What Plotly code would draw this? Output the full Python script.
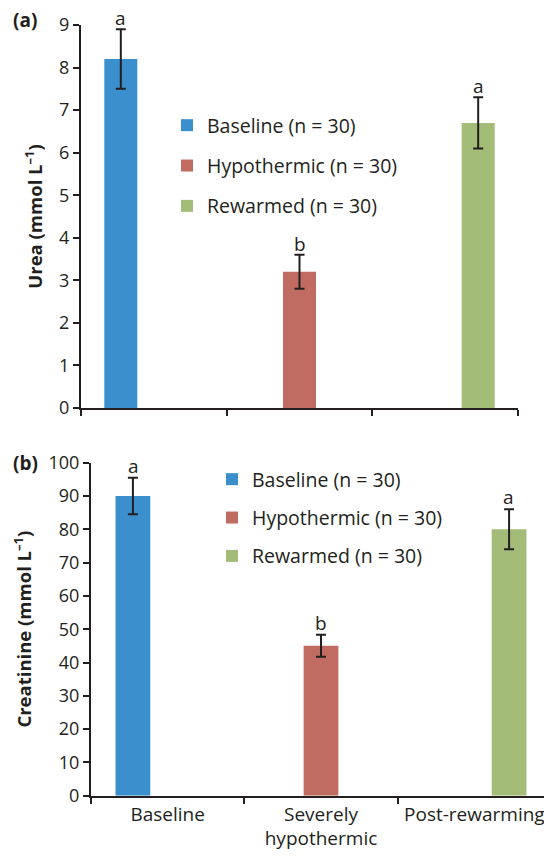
import plotly.graph_objects as go

categories = ["Baseline", "Severely<br>hypothermic", "Post-rewarming"]
series_names = ["Baseline (n = 30)", "Hypothermic (n = 30)", "Rewarmed (n = 30)"]
colors = ["#3A8FCC", "#C06C63", "#A3BD78"]

urea = [8.2, 3.2, 6.7]
urea_err = [0.7, 0.4, 0.6]
urea_letters = ["a", "b", "a"]

creatinine = [90, 45, 80]
creatinine_err = [5.5, 3.3, 6.0]
creatinine_letters = ["a", "b", "a"]

urea_ticks = list(range(0, 10))
creat_ticks = list(range(0, 101, 10))

INK = "#231F20"
FONT = "Open Sans"
# the page body has an 8px margin, so the figure is drawn from (8, 8)
OX, OY = 8, 8
W, H = 552 - OX, 861 - OY


def px(x):
    return (x - OX) / W


def py(y):
    return 1 - (y - OY) / H


fig = go.Figure()


def only(vals, i):
    return [v if j == i else None for j, v in enumerate(vals)]


for i, name in enumerate(series_names):
    fig.add_trace(go.Bar(
        x=categories, y=only(urea, i), name=name,
        marker=dict(color=colors[i], line=dict(width=0)),
        error_y=dict(type="data", array=only(urea_err, i), color=INK, thickness=2, width=5),
        xaxis="x", yaxis="y", legend="legend", legendgroup="t%d" % i,
    ))
for i, name in enumerate(series_names):
    fig.add_trace(go.Bar(
        x=categories, y=only(creatinine, i), name=name,
        marker=dict(color=colors[i], line=dict(width=0)),
        error_y=dict(type="data", array=only(creatinine_err, i), color=INK, thickness=2, width=5),
        xaxis="x2", yaxis="y2", legend="legend2", legendgroup="b%d" % i,
    ))

annotations = []
for i in range(3):
    annotations.append(dict(
        x=categories[i], y=urea[i] + urea_err[i], xref="x", yref="y",
        text=urea_letters[i], showarrow=False, yanchor="bottom", xshift=(i - 1) * 33, yshift=-4,
        font=dict(family=FONT, size=19, color=INK)))
    annotations.append(dict(
        x=categories[i], y=creatinine[i] + creatinine_err[i], xref="x2", yref="y2",
        text=creatinine_letters[i], showarrow=False, yanchor="bottom", xshift=(i - 1) * 34.5, yshift=-3,
        font=dict(family=FONT, size=19, color=INK)))

annotations.append(dict(x=px(11), y=py(20), xref="paper", yref="paper", text="<b>(a)</b>",
                        showarrow=False, xanchor="left", yanchor="middle",
                        font=dict(family=FONT, size=19, color=INK)))
annotations.append(dict(x=px(11), y=py(463), xref="paper", yref="paper", text="<b>(b)</b>",
                        showarrow=False, xanchor="left", yanchor="middle",
                        font=dict(family=FONT, size=19, color=INK)))

axis_common = dict(showline=True, linecolor=INK, linewidth=2, ticks="outside", tickcolor=INK,
                   ticklen=6, tickwidth=1.5, showgrid=False, zeroline=False, automargin=False)

fig.update_layout(
    width=W, height=H,
    margin=dict(l=0, r=0, t=0, b=0, autoexpand=False),
    paper_bgcolor="white", plot_bgcolor="white",
    barmode="group", bargap=0.32, bargroupgap=0,
    font=dict(family=FONT, color=INK, size=18),
    xaxis=dict(domain=[px(81), px(518)], anchor="y", type="category", categoryorder="array",
               categoryarray=categories, showticklabels=False, tickson="boundaries", **axis_common),
    yaxis=dict(domain=[py(408), py(25)], anchor="x", range=[0, 9], tickvals=urea_ticks,
               tickfont=dict(size=18, color=INK),
               title=dict(text="<b>Urea (mmol L<sup>–1</sup>)</b>", font=dict(size=18.5, color=INK), standoff=12),
               **axis_common),
    xaxis2=dict(domain=[px(91), px(551)], anchor="y2", type="category", categoryorder="array",
                categoryarray=categories, tickson="boundaries", tickfont=dict(size=19, color=INK),
                **axis_common),
    yaxis2=dict(domain=[py(795.7), py(462.7)], anchor="x2", range=[0, 100], tickvals=creat_ticks,
                tickfont=dict(size=18, color=INK),
                title=dict(text="<b>Creatinine (mmol L<sup>–1</sup>)</b>", font=dict(size=18.5, color=INK), standoff=12),
                **axis_common),
    legend=dict(x=px(167), y=py(106), xanchor="left", yanchor="top", traceorder="grouped",
                tracegroupgap=12, font=dict(size=19.5, color=INK, family=FONT), bgcolor="rgba(0,0,0,0)"),
    legend2=dict(x=px(212), y=py(460), xanchor="left", yanchor="top", traceorder="grouped",
                 tracegroupgap=10, font=dict(size=19.5, color=INK, family=FONT), bgcolor="rgba(0,0,0,0)"),
    annotations=annotations,
)

fig.write_html("out.html")
